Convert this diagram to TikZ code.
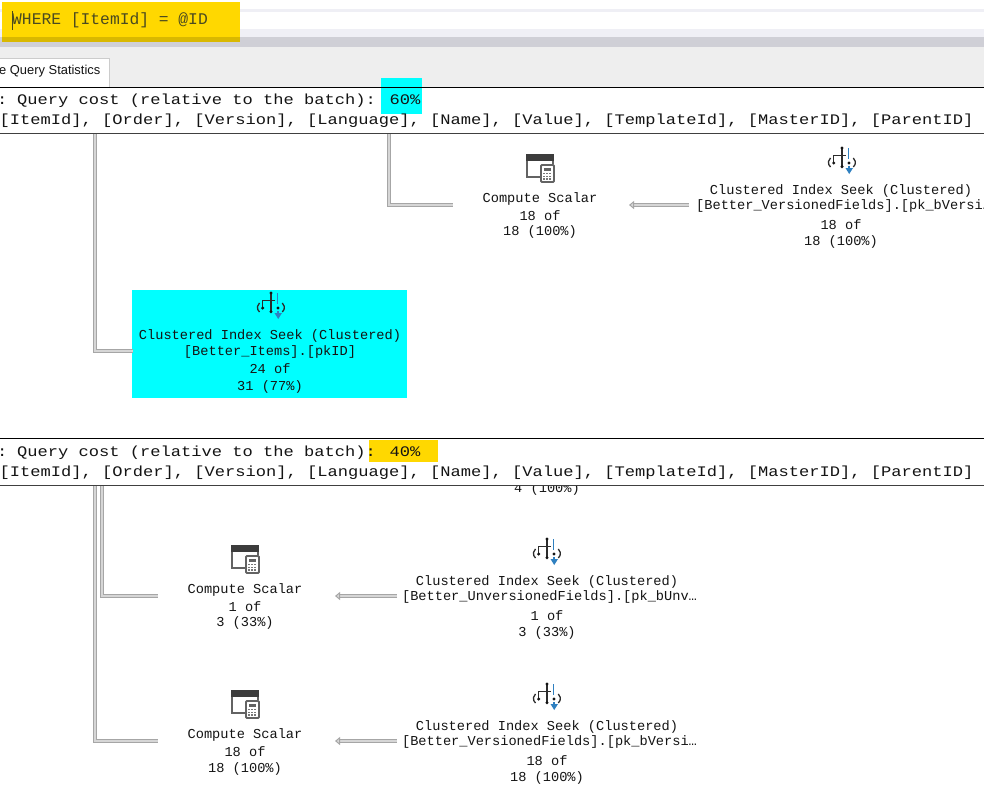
\documentclass[tikz,border=0pt]{standalone}
\usepackage{fontspec}
\setmonofont{Liberation Mono}
\setsansfont{Liberation Sans}
\newfontfamily\planfont{Liberation Mono}
\newfontfamily\widefont[FakeStretch=1.17]{Liberation Mono}
\usetikzlibrary{arrows.meta}
\definecolor{txt}{HTML}{141414}
\definecolor{qyellow}{HTML}{FFD800}
\definecolor{qcyan}{HTML}{00FFFF}
\definecolor{edge}{HTML}{A6A6A6}
\definecolor{fillgray}{HTML}{D6D6D6}
\definecolor{icondark}{HTML}{3C3C3C}
\definecolor{iconblue}{HTML}{2F80C0}
\definecolor{barlav}{HTML}{EFEFF5}
\definecolor{bargray}{HTML}{CFCFD6}
\definecolor{barlight}{HTML}{EEEEEE}
\definecolor{sqlink}{HTML}{4A4A20}
\tikzset{
  x=1pt,y=-1pt,
  plan/.style={font=\planfont\fontsize{13.65}{14}\selectfont,text=txt,inner sep=0pt,anchor=center,yshift=-1pt},
  planleft/.style={plan,anchor=west},
  head/.style={font=\widefont\fontsize{14.6}{15}\selectfont,text=txt,inner sep=0pt,anchor=west,yshift=-1pt},
  elbow/.style={draw=edge,line width=1pt,double=fillgray,double distance=1.4pt,line join=miter},
  flow/.style={draw=edge,line width=1pt,double=fillgray,double distance=1.4pt,-{Triangle[length=5pt,width=8pt,fill=fillgray]}},
  panelrule/.style={draw=#1,line width=1.1pt},
}
\newcommand{\calcicon}[1]{%
  \begin{scope}[shift={(#1)}]
    \draw[icondark!80,line width=1.8pt] (-13,-12) -- (-13,9) -- (0,9);
    \draw[icondark!80,line width=1.8pt] (13,-12) -- (13,-4);
    \fill[icondark] (-14,-14) rectangle (14,-7);
    \fill[white] (0,-3) rectangle (14,14);
    \draw[icondark!80,line width=1.8pt,rounded corners=1pt] (1,-3) rectangle (14,14);
    \fill[icondark!80] (4,0) rectangle (11,3);
    \foreach \a in {4.2,7,9.8}{\foreach \b in {5.5,8.3,11}{\fill[icondark!70] (\a-.8,\b-.8) rectangle (\a+.8,\b+.8);}}
  \end{scope}}
\newcommand{\seekicon}[1]{%
  \begin{scope}[shift={(#1)}]
    \draw[txt!90,line width=1.5pt] (0,-12) -- (0,6.7);
    \draw[txt!90,line width=1.5pt] (-8.3,3) -- (-8.3,-4.3) -- (3.5,-4.3);
    \fill[txt] (0,-12) circle (1.7) (0,6.7) circle (1.7) (-8.3,3) circle (1.7) (7,3) circle (1.7);
    \draw[txt!90,line width=1.3pt] (-11.5,7) arc[start angle=130,end angle=230,radius=5.9];
    \draw[txt!90,line width=1.3pt] (11.3,7) arc[start angle=50,end angle=-50,radius=5.9];
    \draw[iconblue,line width=1.3pt] (6.5,-12) -- (6.5,-1);
    \draw[iconblue,line width=1.3pt] (7,6) -- (7,9);
    \fill[iconblue] (3.5,8) -- (11,8) -- (7.2,14) -- cycle;
  \end{scope}}
\begin{document}
\begin{tikzpicture}
\useasboundingbox (0,0) rectangle (984,788);
\clip (0,0) rectangle (984,788);
\fill[white] (0,0) rectangle (984,788);
% window chrome
\fill[barlav] (0,9) rectangle (984,12);
\fill[barlav] (0,29) rectangle (984,37);
\fill[bargray] (0,37) rectangle (984,47);
\fill[barlight] (0,47) rectangle (984,87);
\fill[white] (0,59) rectangle (109,87);
\draw[black!20,line width=.7pt] (0,58.5) -- (109,58.5) -- (109,87);
\node[font=\sffamily\fontsize{12.9}{14}\selectfont,text=txt,inner sep=0pt,anchor=west] (tabtext) at (-1,71.5) {e Query Statistics};
% highlights
\fill[qyellow] (2,2) rectangle (240,37);
\fill[qyellow!85!black] (2,37) rectangle (240,42);
\node[font=\planfont\fontsize{16.3}{17}\selectfont,text=sqlink,inner sep=0pt,anchor=west] (wheretext) at (12,20) {WHERE [ItemId] = @ID};
\draw[sqlink,line width=.8pt] (12.5,11) -- (12.5,30);
\fill[qcyan] (381,78) rectangle (422,114);
\fill[qyellow] (369,440) rectangle (438,462);
\node[fill=qcyan,inner sep=0pt,minimum width=275pt,minimum height=108pt,anchor=north west] (seekbox) at (132,290) {};
% panel rules
\draw[panelrule=black] (0,87.5) -- (984,87.5);
\draw[panelrule=black!75] (0,133.5) -- (984,133.5);
\draw[panelrule=black] (0,438.5) -- (984,438.5);
\draw[panelrule=black!75] (0,485.5) -- (984,485.5);
% header text
\node[head] (cost1) at (-3,100) {:\kern-4pt{} Query cost (relative to the batch): 60\%};
\node[head] (cols1) at (-0.5,120) {[ItemId], [Order], [Version], [Language], [Name], [Value], [TemplateId], [MasterID], [ParentID]};
\node[head] (cost2) at (-3,452) {:\kern-4pt{} Query cost (relative to the batch): 40\%};
\node[head] (cols2) at (-0.5,472) {[ItemId], [Order], [Version], [Language], [Name], [Value], [TemplateId], [MasterID], [ParentID]};
% clipped line under second header
\begin{scope}
  \clip (400,486.2) rectangle (700,500);
  \node[plan] (clipped) at (547,488) {4 (100\%)};
\end{scope}
% first plan
\calcicon{540,168}
\node[plan] (c1a) at (540,198) {Compute Scalar};
\node[plan] (c1b) at (540,215) {18 of};
\node[plan] (c1c) at (540,231) {18 (100\%)};
\seekicon{842,160}
\node[plan] (s1a) at (841,190) {Clustered Index Seek (Clustered)};
\node[planleft] (s1b) at (696,205) {[Better\_VersionedFields].[pk\_bVersi…};
\node[plan] (s1c) at (841,224) {18 of};
\node[plan] (s1d) at (841,241) {18 (100\%)};
\seekicon{271,305}
\node[plan] (s2a) at (270,335) {Clustered Index Seek (Clustered)};
\node[plan] (s2b) at (270,351) {[Better\_Items].[pkID]};
\node[plan] (s2c) at (270,368) {24 of};
\node[plan] (s2d) at (270,386) {31 (77\%)};
% second plan
\calcicon{245,559}
\node[plan] (c3a) at (245,589) {Compute Scalar};
\node[plan] (c3b) at (245,606) {1 of};
\node[plan] (c3c) at (245,622) {3 (33\%)};
\seekicon{547,551}
\node[plan] (s3a) at (547,581) {Clustered Index Seek (Clustered)};
\node[plan] (s3b) at (549.5,596) {[Better\_UnversionedFields].[pk\_bUnv…};
\node[plan] (s3c) at (547,615) {1 of};
\node[plan] (s3d) at (547,632) {3 (33\%)};
\calcicon{245,704}
\node[plan] (c4a) at (245,734) {Compute Scalar};
\node[plan] (c4b) at (245,751) {18 of};
\node[plan] (c4c) at (245,768) {18 (100\%)};
\seekicon{547,696}
\node[plan] (s4a) at (547,726) {Clustered Index Seek (Clustered)};
\node[plan] (s4b) at (549.5,741) {[Better\_VersionedFields].[pk\_bVersi…};
\node[plan] (s4c) at (547,760) {18 of};
\node[plan] (s4d) at (547,777) {18 (100\%)};
% connector ends
\coordinate (top1) at (95,134);
\coordinate (top2) at (389,134);
\coordinate (top3) at (102,486);
\coordinate (top4) at (95,486);
\coordinate (s2in) at (133,351);
\coordinate (c1in) at (453,205);
\coordinate (c1out) at (629,205);
\coordinate (s1out) at (689,205);
\coordinate (c3in) at (158,596);
\coordinate (c3out) at (335,596);
\coordinate (s3out) at (397,596);
\coordinate (c4in) at (158,741);
\coordinate (c4out) at (335,741);
\coordinate (s4out) at (397,741);
% connectors
\draw[elbow] (top1) |- (s2in);
\draw[elbow] (top2) |- (c1in);
\draw[elbow] (top3) |- (c3in);
\draw[elbow] (top4) |- (c4in);
\draw[flow] (s1out) -- (c1out);
\draw[flow] (s3out) -- (c3out);
\draw[flow] (s4out) -- (c4out);
\end{tikzpicture}
\end{document}
